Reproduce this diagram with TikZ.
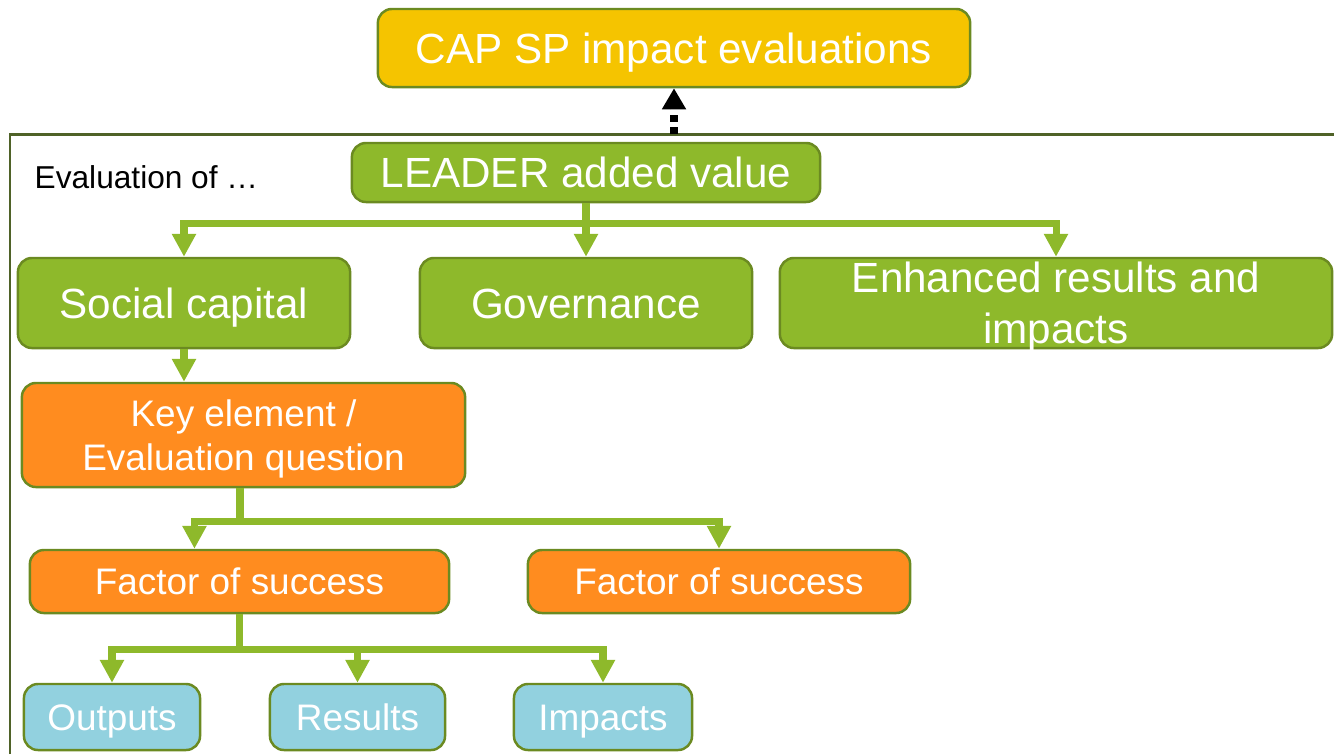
\documentclass[tikz,border=0pt]{standalone}
\usepackage{fontspec}
\setmainfont{Liberation Sans}
\usepackage{tikz}
\usetikzlibrary{arrows.meta}

\definecolor{leafgreen}{RGB}{142,185,43}
\definecolor{olive}{RGB}{107,138,33}
\definecolor{framegreen}{RGB}{79,98,40}
\definecolor{boxorange}{RGB}{255,140,31}
\definecolor{boxyellow}{RGB}{245,196,0}
\definecolor{boxblue}{RGB}{146,209,223}

\begin{document}
\begin{tikzpicture}[
    x=0.01cm, y=-0.01cm,
    box/.style={draw=olive, line width=0.7pt, rounded corners=4pt, text=white, align=center, inner sep=0pt},
    big/.style={box, font=\fontsize{12}{14.5}\selectfont},
    small/.style={box, font=\fontsize{10.5}{12.6}\selectfont},
    bigline/.style={big, text height=8.6pt, text depth=0pt},
    smallline/.style={small, text height=7.5pt, text depth=0pt},
    link/.style={-{Triangle[width=6.5pt,length=6.5pt]}, line width=2pt, leafgreen},
    dashlink/.style={-{Triangle[width=6.5pt,length=6pt]}, line width=2pt, black, dash pattern=on 2pt off 1.5pt}
]
\useasboundingbox (0,0) rectangle (1334,754);
\draw[framegreen, line width=0.85pt] (10,754) |- (1334,134);

\node[bigline, fill=boxyellow, minimum width=5.92cm, minimum height=0.78cm] (cap) at (674,48) {CAP SP impact evaluations};
\node[anchor=west, inner sep=0pt, font=\fontsize{9}{11}\selectfont] (evalof) at (34,177) {Evaluation of \dots};
\node[bigline, fill=leafgreen, minimum width=4.68cm, minimum height=0.59cm] (leader) at (586,172.5) {LEADER added value};

\node[bigline, fill=leafgreen, minimum width=3.32cm, minimum height=0.9cm] (social) at (184,303) {Social capital};
\node[bigline, fill=leafgreen, minimum width=3.32cm, minimum height=0.9cm] (gov) at (586,303) {Governance};
\node[big, fill=leafgreen, minimum width=5.52cm, minimum height=0.9cm] (enh) at (1056,303) {Enhanced results and\\\smash{impacts}};

\node[small, fill=boxorange, minimum width=4.43cm, minimum height=1.04cm] (keyq) at (243.5,435) {\rule{0pt}{10pt}Key element /\\Evaluation question};
\node[smallline, fill=boxorange, minimum width=4.19cm, minimum height=0.63cm] (fact1) at (239.5,581.5) {Factor of success};
\node[smallline, fill=boxorange, minimum width=3.82cm, minimum height=0.63cm] (fact2) at (719,581.5) {Factor of success};

\node[smallline, fill=boxblue, minimum width=1.76cm, minimum height=0.66cm] (outputs) at (112,717) {Outputs};
\node[smallline, fill=boxblue, minimum width=1.75cm, minimum height=0.66cm] (results) at (357.5,717) {Results};
\node[smallline, fill=boxblue, minimum width=1.78cm, minimum height=0.66cm] (impacts) at (603,717) {Impacts};

\coordinate (frametop) at (674,134);
\draw[dashlink] (frametop) -- (cap.south);

\draw[link] (leader.south) -- ++(0,20) -| (social.north);
\draw[link] (leader.south) -- (gov.north);
\draw[link] (leader.south) -- ++(0,20) -| (enh.north);

\draw[link] (social.south) -- (social.south |- keyq.north);

\draw[link] ([xshift=-0.035cm]keyq.south) -- ++(0,33) -| ([xshift=-0.45cm]fact1.north);
\draw[link] ([xshift=-0.035cm]keyq.south) -- ++(0,33) -| (fact2.north);

\draw[link] (fact1.south) -- ++(0,35) -| (outputs.north);
\draw[link] (fact1.south) -- ++(0,35) -| (results.north);
\draw[link] (fact1.south) -- ++(0,35) -| (impacts.north);
\end{tikzpicture}
\end{document}
